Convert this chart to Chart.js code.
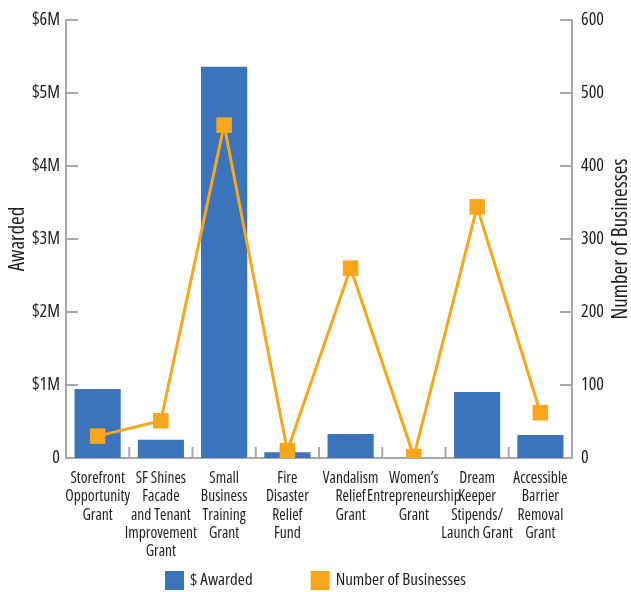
<!DOCTYPE html>
<html>
<head>
<meta charset="utf-8">
<script src="https://cdn.jsdelivr.net/npm/chart.js@4"></script>
<style>
  html, body { margin: 0; padding: 0; background: #fff; }
  #wrap { width: 631px; height: 592px; }
</style>
</head>
<body>
<div id="wrap"><canvas id="grants"></canvas></div>
<script>
const programs = [
  ["Storefront", "Opportunity", "Grant"],
  ["SF Shines", "Facade", "and Tenant", "Improvement", "Grant"],
  ["Small", "Business", "Training", "Grant"],
  ["Fire", "Disaster", "Relief", "Fund"],
  ["Vandalism", "Relief", "Grant"],
  ["Women\u2019s", "Entrepreneurship", "Grant"],
  ["Dream", "Keeper", "Stipends/", "Launch Grant"],
  ["Accessible", "Barrier", "Removal", "Grant"]
];
const dollarsAwarded = [945000, 250000, 5360000, 80000, 330000, 0, 905000, 315000];
const businessCount = [30, 51, 456, 10, 260, 2, 344, 62];
const dollarTicks = [0, 1e6, 2e6, 3e6, 4e6, 5e6, 6e6];
const countTicks = [0, 100, 200, 300, 400, 500, 600];

// condensed face of Open Sans, picked through font-stretch
const FONT = "'Open Sans', 'Roboto Condensed', sans-serif";
const STRETCH = "condensed";
const AXIS_GREY = "#a8a8a8";
const BLUE = "#3b74ba";
const ORANGE = "#f8a61c";
const INK = "#1e1e1e";

// tick marks sit inside the plot area, like the original
const innerTicks = {
  id: "innerTicks",
  beforeDatasetsDraw(chart) {
    const ctx = chart.ctx;
    const x = chart.scales.x;
    const left = chart.scales.y;
    const right = chart.scales.y2;
    ctx.save();
    ctx.strokeStyle = AXIS_GREY;
    ctx.lineWidth = 2;
    ctx.beginPath();
    dollarTicks.forEach(v => {
      const py = left.getPixelForValue(v);
      ctx.moveTo(left.right, py);
      ctx.lineTo(left.right + 12, py);
    });
    countTicks.forEach(v => {
      const py = right.getPixelForValue(v);
      ctx.moveTo(right.left, py);
      ctx.lineTo(right.left - 12, py);
    });
    const half = (x.getPixelForTick(1) - x.getPixelForTick(0)) / 2;
    for (let i = 1; i < programs.length; i++) {
      const px = x.getPixelForTick(i) - half;
      ctx.moveTo(px, x.top);
      ctx.lineTo(px, x.top - 11);
    }
    ctx.stroke();
    ctx.restore();
  }
};

// right axis title reads bottom-to-top in the original
const rightTitle = {
  id: "rightTitle",
  afterDraw(chart) {
    const ctx = chart.ctx;
    const area = chart.chartArea;
    ctx.save();
    ctx.translate(chart.width - 10, (area.top + area.bottom) / 2);
    ctx.rotate(-Math.PI / 2);
    ctx.font = STRETCH + " 21px " + FONT;
    ctx.fillStyle = INK;
    ctx.textAlign = "center";
    ctx.textBaseline = "middle";
    ctx.fillText("Number of Businesses", 0, 0);
    ctx.restore();
  }
};

// legend row: square swatches with wide spacing between entries
const legendRow = {
  id: "legendRow",
  afterDraw(chart) {
    const ctx = chart.ctx;
    const box = 19, gap = 6, spacing = 58;
    ctx.save();
    ctx.font = STRETCH + " 17px " + FONT;
    ctx.textBaseline = "middle";
    const items = chart.data.datasets.map(d => ({ text: d.label, color: d.backgroundColor }));
    const widths = items.map(it => box + gap + ctx.measureText(it.text).width);
    const total = widths.reduce((a, b) => a + b, 0) + spacing * (items.length - 1);
    let cx = (chart.width - total) / 2;
    const cy = chart.height - 11.5;
    items.forEach((it, i) => {
      ctx.fillStyle = it.color;
      ctx.fillRect(cx, cy - box / 2, box, box);
      ctx.fillStyle = INK;
      ctx.fillText(it.text, cx + box + gap, cy);
      cx += widths[i] + spacing;
    });
    ctx.restore();
  }
};

new Chart(document.getElementById("grants"), {
  data: {
    labels: programs,
    datasets: [
      {
        type: "bar",
        label: "$ Awarded",
        data: dollarsAwarded,
        yAxisID: "y",
        backgroundColor: BLUE,
        categoryPercentage: 1,
        barPercentage: 0.73,
        order: 1
      },
      {
        type: "line",
        label: "Number of Businesses",
        data: businessCount,
        yAxisID: "y2",
        borderColor: ORANGE,
        backgroundColor: ORANGE,
        borderWidth: 3,
        pointStyle: "rect",
        pointRadius: 11,
        pointBorderWidth: 0,
        tension: 0,
        order: 0
      }
    ]
  },
  options: {
    responsive: true,
    maintainAspectRatio: false,
    animation: false,
    layout: { padding: { top: 20, left: 0, right: 0, bottom: 0 } },
    plugins: {
      tooltip: { enabled: false },
      legend: { display: false }
    },
    scales: {
      x: {
        offset: true,
        grid: { display: false, drawTicks: false },
        border: { display: true, color: AXIS_GREY, width: 2 },
        ticks: {
          padding: 11,
          maxRotation: 0,
          autoSkip: false,
          color: INK,
          font: { family: FONT, weight: STRETCH, size: 15.5, lineHeight: 1.19 }
        },
        afterFit: s => { s.height = 134; }
      },
      y: {
        position: "left",
        min: 0,
        max: 6e6,
        grid: { display: false, drawTicks: false },
        border: { display: true, color: AXIS_GREY, width: 2 },
        ticks: {
          stepSize: 1e6,
          padding: 6,
          color: INK,
          font: { family: FONT, weight: STRETCH, size: 18 },
          callback: v => v === 0 ? "0" : "$" + (v / 1e6) + "M"
        },
        title: {
          display: true,
          text: "Awarded",
          color: INK,
          font: { family: FONT, weight: STRETCH, size: 21, lineHeight: 1.2 },
          padding: { top: 5, bottom: 0 }
        },
        afterFit: s => { s.width = 66; }
      },
      y2: {
        position: "right",
        min: 0,
        max: 600,
        grid: { display: false, drawTicks: false },
        border: { display: true, color: AXIS_GREY, width: 2 },
        ticks: {
          stepSize: 100,
          padding: 9,
          color: INK,
          font: { family: FONT, weight: STRETCH, size: 18 }
        },
        afterFit: s => { s.width = 59; }
      }
    }
  },
  plugins: [innerTicks, rightTitle, legendRow]
});
</script>
</body>
</html>
